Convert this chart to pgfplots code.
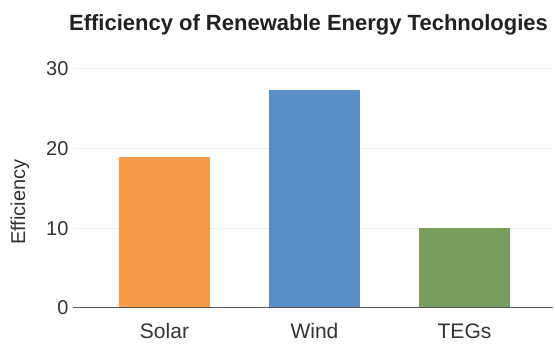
\documentclass[border=0pt]{standalone}
\usepackage{fontspec}
\setmainfont{Liberation Sans}
\usepackage{pgfplots}
\pgfplotsset{compat=1.18}
\definecolor{cSolar}{HTML}{F59A45}
\definecolor{cWind}{HTML}{5A8DC5}
\definecolor{cTEG}{HTML}{789D5C}
\definecolor{gridc}{HTML}{EBEBEB}
\definecolor{axc}{HTML}{555555}
\definecolor{txt}{HTML}{333333}
\begin{document}
\begin{tikzpicture}
\path[use as bounding box] (-73pt,-37pt) rectangle (482pt,308pt);
\begin{axis}[
  at={(0,0)}, anchor=south west,
  scale only axis,
  width=480pt, height=239pt,
  xmin=-0.61, xmax=2.59,
  ymin=0, ymax=30,
  ytick={0,10,20,30},
  xtick={0,1,2},
  xticklabels={Solar,Wind,TEGs},
  axis line style={draw=none},
  tick style={draw=none},
  ymajorgrids,
  grid style={gridc, line width=1pt},
  yticklabel style={font=\fontsize{20}{22}\selectfont, text=txt, anchor=east, xshift=-1pt},
  xticklabel style={font=\fontsize{21}{23}\selectfont, text=txt, anchor=base, yshift=-31pt},
  /pgf/number format/assume math mode=true,
  clip=false,
]
\addplot[ybar, bar width=91pt, fill=cSolar, draw=none] coordinates {(0,19)};
\addplot[ybar, bar width=91pt, fill=cWind, draw=none] coordinates {(1,27.4)};
\addplot[ybar, bar width=91pt, fill=cTEG, draw=none] coordinates {(2,10)};
\draw[axc, line width=1pt] (axis cs:-0.61,0) -- (axis cs:2.59,0);
\end{axis}
\node[rotate=90, font=\fontsize{20}{22}\selectfont, text=txt] at (-53pt,106pt) {Efficiency};
\node[anchor=base, font=\bfseries\fontsize{22}{24}\selectfont, text=black!87] at (235.5pt,277pt) {Efficiency of Renewable Energy Technologies};
\end{tikzpicture}
\end{document}
